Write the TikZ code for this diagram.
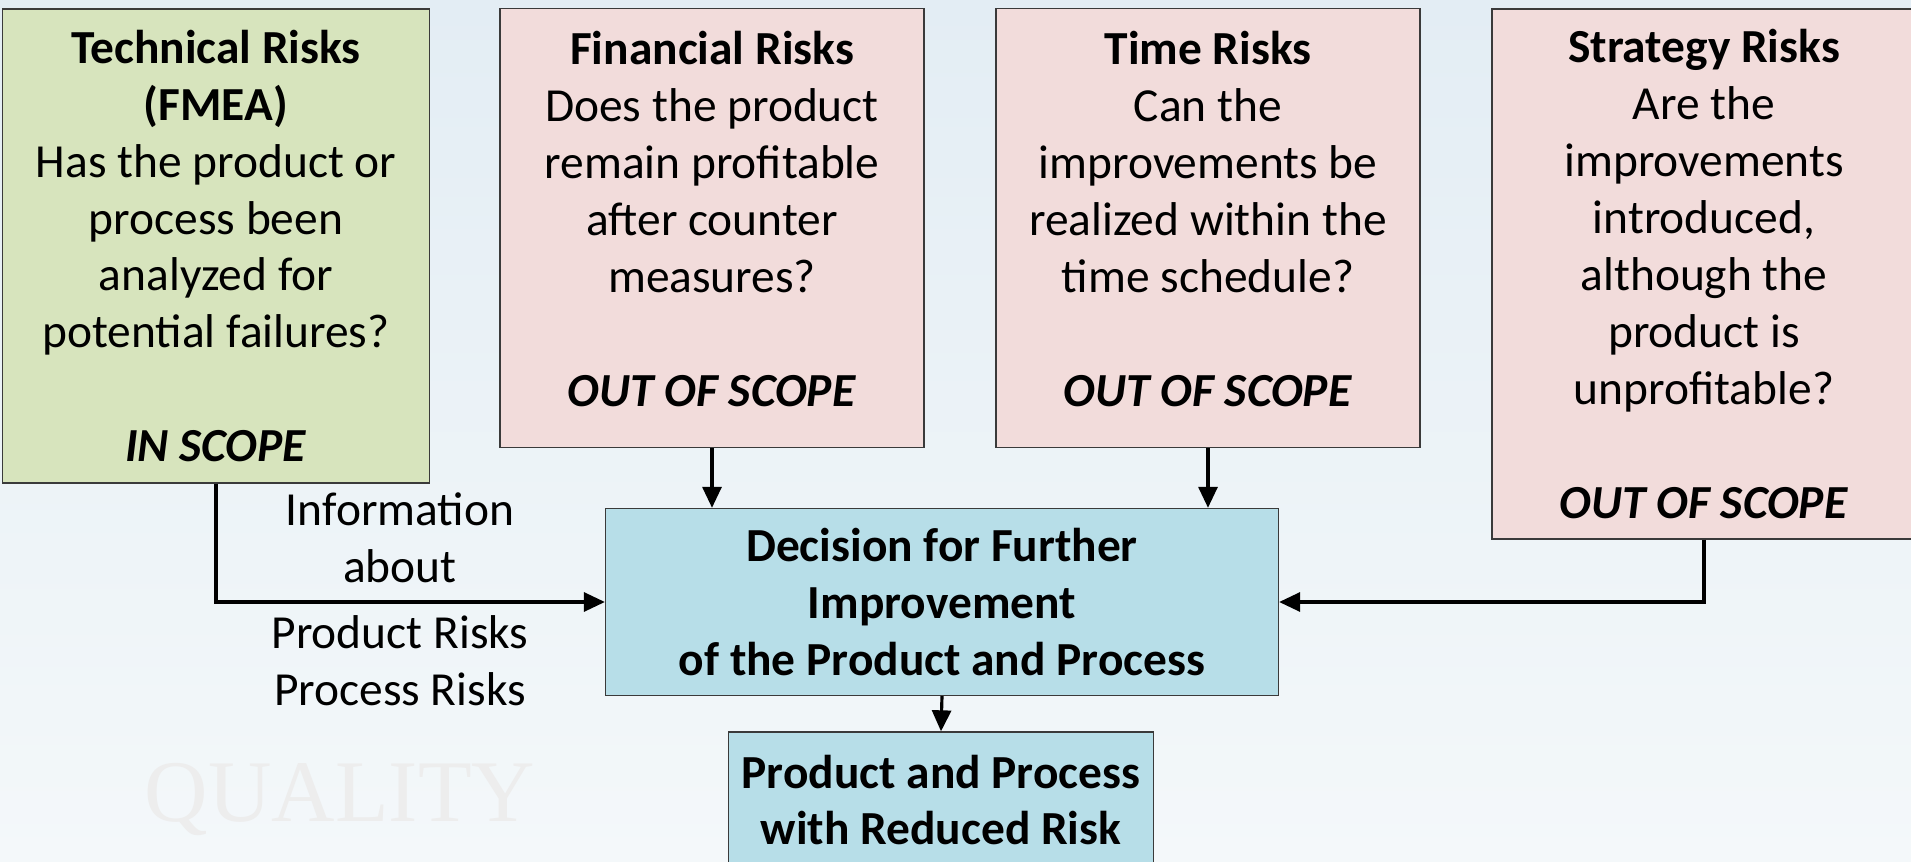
\documentclass[tikz,border=0pt]{standalone}
\usepackage{fontspec}
\setmainfont{Carlito}
\newfontfamily\markfont{Liberation Serif}
\usetikzlibrary{arrows.meta}

\definecolor{techgreen}{HTML}{D7E4BD}
\definecolor{riskpink}{HTML}{F2DCDB}
\definecolor{decblue}{HTML}{B7DEE8}
\definecolor{edgegray}{HTML}{3A3A3A}
\definecolor{bgtop}{HTML}{E3EDF4}
\definecolor{bgbottom}{HTML}{F4F8FA}

\tikzset{
  riskbox/.style={draw=edgegray, line width=0.8pt, align=center, inner sep=0pt,
    font=\fontsize{27}{32.4}\selectfont},
  flow/.style={line width=1.8pt, -{Triangle[length=0.42cm, width=0.38cm]}},
  infolabel/.style={align=center, font=\fontsize{27}{32.4}\selectfont}
}

\begin{document}
\begin{tikzpicture}[x=0.02cm, y=-0.02cm]
        % Background
        \useasboundingbox (0, 0) rectangle (1911, 862);
        \clip (0, 0) rectangle (1911, 862);
        \shade[top color=bgtop, bottom color=bgbottom] (0, 0) rectangle (1911, 862);
        \node[text=black!7, font=\markfont\fontsize{50}{50}\selectfont] (mark) at (340, 800) {QUALITY};

        % Risk boxes
        \node[riskbox, fill=techgreen, minimum width=8.54cm, minimum height=9.48cm] (tech) at (216, 246)
            {\textbf{Technical Risks}\\ \textbf{(FMEA)}\\ Has the product or\\ process been\\ analyzed for\\ potential failures?\\[32.4pt] \textbf{\textit{IN SCOPE}}};
        \node[riskbox, fill=riskpink, minimum width=8.48cm, minimum height=8.78cm] (fin) at (712, 228)
            {\textbf{Financial Risks}\\ Does the product\\ remain profitable\\ after counter\\ measures?\\[32.4pt] \textbf{\textit{OUT OF SCOPE}}\\[-22pt] \mbox{}};
        \node[riskbox, fill=riskpink, minimum width=8.48cm, minimum height=8.78cm] (time) at (1208, 228)
            {\textbf{Time Risks}\\ Can the\\ improvements be\\ realized within the\\ time schedule?\\[32.4pt] \textbf{\textit{OUT OF SCOPE}}\\[-22pt] \mbox{}};
        \node[riskbox, fill=riskpink, minimum width=8.48cm, minimum height=10.6cm] (strat) at (1704, 274)
            {\textbf{Strategy Risks}\\ Are the\\ improvements\\ introduced,\\ although the\\ product is\\ unprofitable?\\[32.4pt] \textbf{\textit{OUT OF SCOPE}}};

        % Decision and result
        \node[riskbox, fill=decblue, minimum width=13.46cm, minimum height=3.74cm, font=\bfseries\fontsize{27}{32.4}\selectfont] (dec) at (942, 602)
            {Decision for Further\\ Improvement\\ of the Product and Process};
        \node[riskbox, fill=decblue, minimum width=8.5cm, minimum height=2.72cm, font=\bfseries\fontsize{27}{32.4}\selectfont] (prod) at (941, 800)
            {Product and Process\\ with Reduced Risk};

        % Labels on the FMEA arrow
        \node[infolabel] (infotop) at (400, 538) {Information\\ about};
        \node[infolabel] (infobot) at (400, 661) {Product Risks\\ Process Risks};

        % Arrows
        \draw[flow] (tech.south) |- (dec.west);
        \draw[flow] (fin.south) -- (fin.south |- dec.north);
        \draw[flow] (time.south) -- (time.south |- dec.north);
        \draw[flow] (strat.south) |- (dec.east);
        \draw[flow] (dec.south) -- (prod.north);
    \end{tikzpicture}
\end{document}
